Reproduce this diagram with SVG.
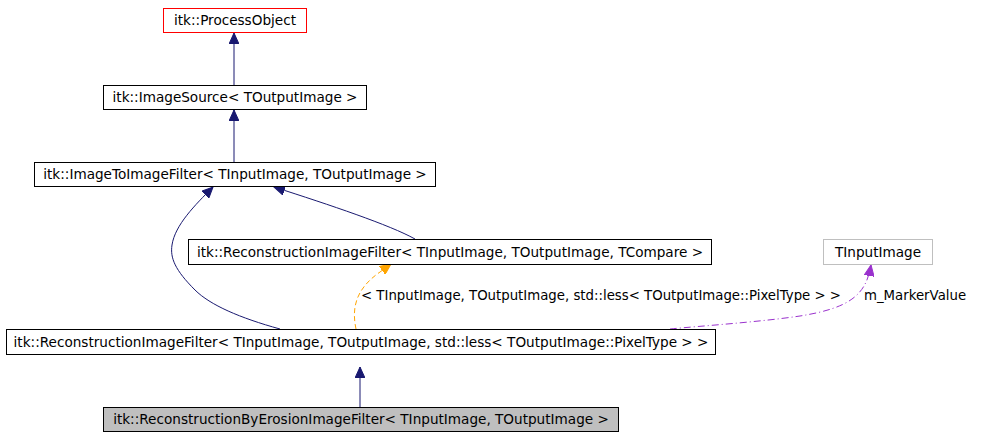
<svg xmlns="http://www.w3.org/2000/svg" width="987" height="437" viewBox="0 0 987 437">
<style>
text{font-family:"DejaVu Sans",sans-serif;font-size:13.6px;fill:#000;text-anchor:middle}
text.l{text-anchor:start;font-size:13.3px}
.n rect{fill:#fff;stroke:#000;stroke-width:1}
.e{fill:none;stroke:#191970;stroke-width:1}
</style>
<defs>
<marker id="ah" markerWidth="12" markerHeight="10" refX="11" refY="5" orient="auto" markerUnits="userSpaceOnUse"><path d="M0,0 L11,5 L0,10 Z" fill="#191970" stroke="#191970"/></marker>
<marker id="ao" markerWidth="12" markerHeight="10" refX="11" refY="5" orient="auto" markerUnits="userSpaceOnUse"><path d="M0,0 L11,5 L0,10 Z" fill="orange" stroke="orange"/></marker>
<marker id="ap" markerWidth="12" markerHeight="10" refX="11" refY="5" orient="auto" markerUnits="userSpaceOnUse"><path d="M0,0 L11,5 L0,10 Z" fill="#9a32cd" stroke="#9a32cd"/></marker>
</defs>
<rect width="987" height="437" fill="#fff"/>
<g id="edges">
<path class="e" d="M234,85 L234,33" marker-end="url(#ah)"/>
<path class="e" d="M234,162 L234,110" marker-end="url(#ah)"/>
<path class="e" d="M415,239 C390,225 330,205 274,187" marker-end="url(#ah)"/>
<path class="e" d="M280,329 C240,318 210,305 195,290 C175,270 170,258 172,245 C175,225 195,205 213,187" marker-end="url(#ah)"/>
<path d="M356,329 C352,310 354,290 380,272 L391,264" fill="none" stroke="orange" stroke-dasharray="5,3" marker-end="url(#ao)"/>
<text class="l" x="361" y="300">&lt; TInputImage, TOutputImage, std::less&lt; TOutputImage::PixelType &gt; &gt;</text>
<path d="M670,329 C700,326 760,322 800,316 C850,308 866,295 871,265" fill="none" stroke="#9a32cd" stroke-dasharray="7,3,1,3" marker-end="url(#ap)"/>
<text class="l" x="864" y="300">m_MarkerValue</text>
</g>
<g id="n1" class="n"><rect x="163.5" y="8.5" width="143" height="24" style="stroke:#f00"/><text x="235" y="25">itk::ProcessObject</text></g>
<g id="n2" class="n"><rect x="103.5" y="85.5" width="263" height="24"/><text x="235" y="102">itk::ImageSource&lt; TOutputImage &gt;</text></g>
<g id="n3" class="n"><rect x="34.5" y="162.5" width="401" height="24"/><text x="235" y="179">itk::ImageToImageFilter&lt; TInputImage, TOutputImage &gt;</text></g>
<g id="n4" class="n"><rect x="188.5" y="239.5" width="523" height="25"/><text x="450" y="257">itk::ReconstructionImageFilter&lt; TInputImage, TOutputImage, TCompare &gt;</text></g>
<g id="n5" class="n"><rect x="823.5" y="239.5" width="109" height="25" style="stroke:#bfbfbf"/><text x="878" y="257">TInputImage</text></g>
<g id="n6" class="n"><rect x="6.5" y="329.5" width="709" height="25"/><text x="361" y="347">itk::ReconstructionImageFilter&lt; TInputImage, TOutputImage, std::less&lt; TOutputImage::PixelType &gt; &gt;</text></g>
<g id="n7" class="n"><rect x="103.5" y="407.5" width="515" height="24" style="fill:#bfbfbf"/><text x="361" y="424">itk::ReconstructionByErosionImageFilter&lt; TInputImage, TOutputImage &gt;</text></g>
<path d="M360,407 L360,367" class="e" marker-end="url(#ah)"/>
</svg>
